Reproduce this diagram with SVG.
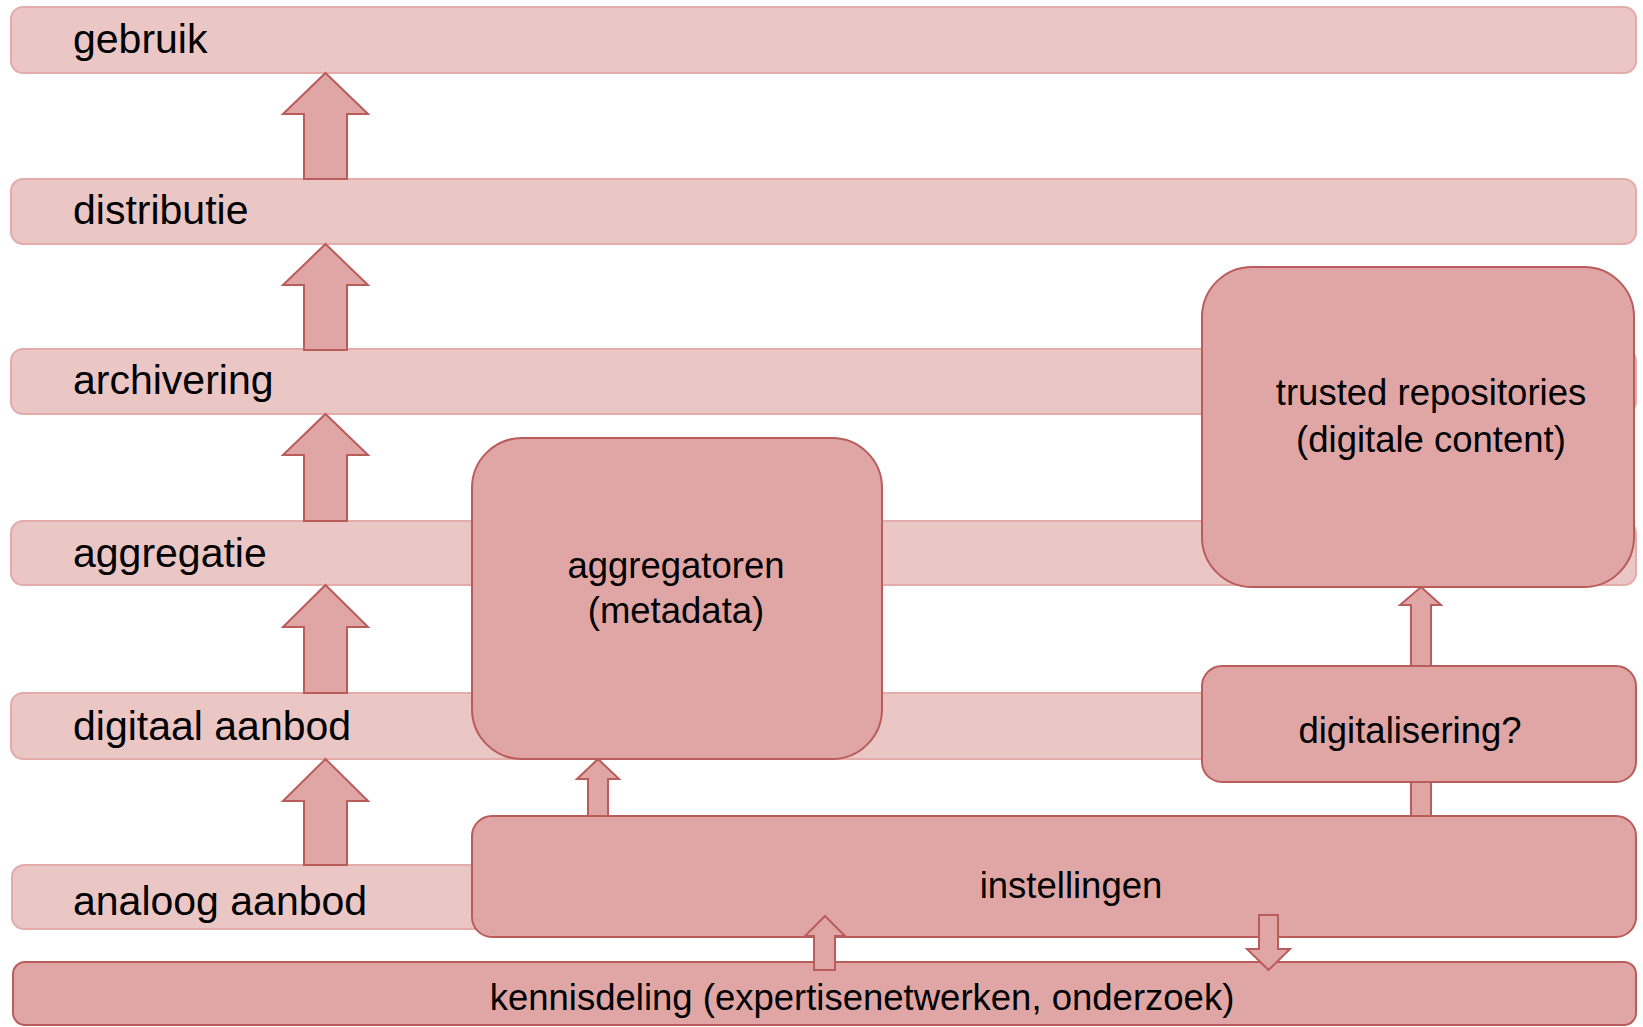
<svg xmlns="http://www.w3.org/2000/svg" width="1643" height="1027" viewBox="0 0 1643 1027">
<defs>
<style>
.bar{fill:#EAC6C5;stroke:#E3ABAA;stroke-width:2}
.box{fill:#DFA6A5;stroke:#B95C5A;stroke-width:2}
.arr{fill:#DFA6A5;stroke:#B95C5A;stroke-width:2;stroke-linejoin:miter}
.lbl{font-family:"Liberation Sans",Arial,sans-serif;font-size:41px;fill:#000}
.txt{font-family:"Liberation Sans",Arial,sans-serif;font-size:36.5px;fill:#000;text-anchor:middle}
</style>
</defs>
<rect width="1643" height="1027" fill="#ffffff"/>
<g id="bar-gebruik"><rect class="bar" x="11" y="7" width="1625" height="66" rx="12"/><text class="lbl" x="73" y="53">gebruik</text></g>
<g id="bar-distributie"><rect class="bar" x="11" y="179" width="1625" height="65" rx="12"/><text class="lbl" x="73" y="224">distributie</text></g>
<g id="bar-archivering"><rect class="bar" x="11" y="349" width="1625" height="65" rx="12"/><text class="lbl" x="73" y="394">archivering</text></g>
<g id="bar-aggregatie"><rect class="bar" x="11" y="521" width="1625" height="64" rx="12"/><text class="lbl" x="73" y="567">aggregatie</text></g>
<g id="bar-digitaal"><rect class="bar" x="11" y="693" width="1625" height="66" rx="12"/><text class="lbl" x="73" y="740">digitaal aanbod</text></g>
<g id="bar-analoog"><rect class="bar" x="12" y="865" width="1624" height="64" rx="12"/><text class="lbl" x="73" y="915">analoog aanbod</text></g>
<g id="node-aggregatoren"><rect class="box" x="472" y="438" width="410" height="321" rx="50"/><text class="txt" x="676" y="578">aggregatoren</text><text class="txt" x="676" y="623">(metadata)</text></g>
<g id="node-trusted"><rect class="box" x="1202" y="267" width="432" height="320" rx="50"/><text class="txt" x="1431" y="405">trusted repositories</text><text class="txt" x="1431" y="452">(digitale content)</text></g>
<g id="node-digitalisering"><rect class="box" x="1202" y="666" width="434" height="116" rx="20"/><text class="txt" x="1410" y="743">digitalisering?</text></g>
<g id="node-instellingen"><rect class="box" x="472" y="816" width="1164" height="121" rx="20"/><text class="txt" x="1071" y="898">instellingen</text></g>
<g id="node-kennisdeling"><rect class="box" x="13" y="962" width="1623" height="63" rx="12"/><text class="txt" x="862" y="1010">kennisdeling (expertisenetwerken, onderzoek)</text></g>
<g id="connectors">
<polygon class="arr" points="325.5,73 368,114 347,114 347,179 304,179 304,114 283,114"/>
<polygon class="arr" points="325.5,244 368,285 347,285 347,350 304,350 304,285 283,285"/>
<polygon class="arr" points="325.5,414 368,455 347,455 347,521 304,521 304,455 283,455"/>
<polygon class="arr" points="325.5,585 368,627 347,627 347,693 304,693 304,627 283,627"/>
<polygon class="arr" points="325.5,759 368,801 347,801 347,865 304,865 304,801 283,801"/>
<polygon class="arr" points="598,759 619,779 608,779 608,816 588,816 588,779 577,779"/>
<polygon class="arr" points="1421,587 1441,605 1431,605 1431,666 1411,666 1411,605 1400,605"/>
<rect class="arr" x="1411" y="782" width="20" height="34"/>
<polygon class="arr" points="825,916 845,936 835,936 835,970 814,970 814,936 805,936"/>
<polygon class="arr" points="1268.5,970 1290,949 1278,949 1278,915 1259,915 1259,949 1247,949"/>
</g>
</svg>
